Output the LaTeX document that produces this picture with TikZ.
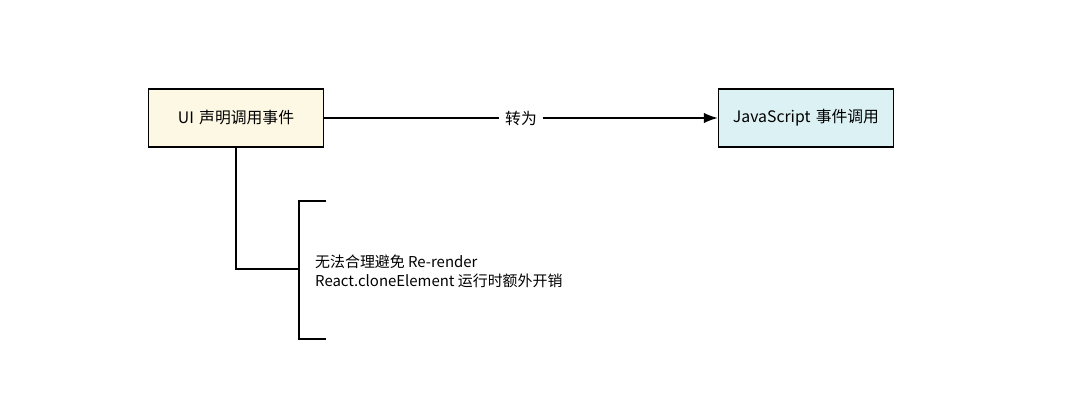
\documentclass[tikz,border=0pt]{standalone}
\usepackage{fontspec}
\setmainfont{Noto Sans CJK SC}
\usepackage{tikz}
\usetikzlibrary{positioning,arrows.meta}
\definecolor{uifill}{HTML}{FDF8E4}
\definecolor{jsfill}{HTML}{DCF1F4}
\tikzset{
	box/.style={draw=black,thick,minimum width=3.5cm,minimum height=1.16cm,align=center,text width=3.2cm,font=\fontsize{9}{12}\selectfont},
	link/.style={thick}
}
\begin{document}
\begin{tikzpicture}[x=0.02cm,y=-0.02cm]
	\useasboundingbox (0,0) rectangle (1080,416);
	\node[box,fill=uifill] (ui) at (236, 118) {UI 声明调用事件};
	\node[box,fill=jsfill] (js) at (806, 118) {JavaScript 事件调用};
	\path[link,-{Latex[length=8pt,width=6pt]}] (ui) edge node[fill=white,font=\fontsize{9}{11}\selectfont]{转为} (js);
	\coordinate (b) at (299, 269);
	\coordinate (bt) at (299, 201);
	\coordinate (bb) at (299, 339);
	\coordinate (tt) at (326, 201);
	\coordinate (tb) at (326, 339);
	\draw[link] (ui.south) |- (b);
	\draw[link] (tt) -- (bt) -- (bb) -- (tb);
	\node[anchor=west,align=left,font=\fontsize{8.5}{11}\selectfont] (note) at (309, 271)
		{无法合理避免 Re-render\\React.cloneElement 运行时额外开销};
\end{tikzpicture}
\end{document}
